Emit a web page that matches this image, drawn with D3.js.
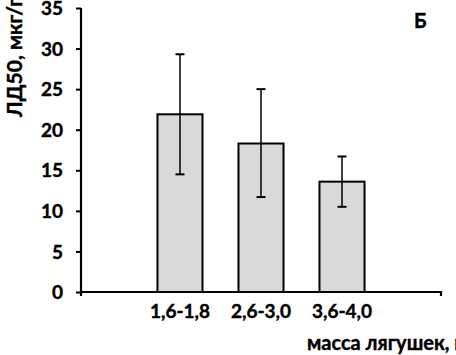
<!DOCTYPE html>
<html><head><meta charset="utf-8">
<script src="https://cdn.jsdelivr.net/npm/d3@7/dist/d3.min.js"></script>
<style>body{margin:0;background:#fff}svg{display:block}text{font-family:Lato,"Open Sans",sans-serif;font-weight:bold;fill:#000;stroke:#000;stroke-width:0.4px}</style>
</head><body>
<svg id="c" width="456" height="355"></svg>
<script>
const categories = ["1,6-1,8", "2,6-3,0", "3,6-4,0"];
const values = [21.9, 18.3, 13.6];
const errHigh = [29.3, 25.0, 16.7];
const errLow = [14.5, 11.7, 10.5];
const yTicks = [0, 5, 10, 15, 20, 25, 30, 35];

const svg = d3.select("#c");
const y = d3.scaleLinear().domain([0, 35]).range([292, 8]);
const x = d3.scaleBand().domain(categories).range([121.5, 400.5]).paddingInner(0.444).paddingOuter(0.444);
const x0 = 81, x1 = 441;

// bars
svg.selectAll("rect.bar").data(values).join("rect")
  .attr("x", (d,i) => x(categories[i]))
  .attr("y", d => y(d))
  .attr("width", x.bandwidth())
  .attr("height", d => y(0) - y(d))
  .attr("fill", "#d9d9d9").attr("stroke", "#000").attr("stroke-width", 2);

// error bars
const eg = svg.append("g").attr("stroke", "#000").attr("stroke-width", 1.5);
categories.forEach((c, i) => {
  const cx = x(c) + x.bandwidth() / 2;
  eg.append("line").attr("x1", cx).attr("x2", cx).attr("y1", y(errHigh[i])).attr("y2", y(errLow[i]));
  [errHigh[i], errLow[i]].forEach(v => {
    eg.append("line").attr("x1", cx - 4.5).attr("x2", cx + 4.5).attr("y1", y(v)).attr("y2", y(v)).attr("stroke-width", 2);
  });
});

// y axis
const yAxis = svg.append("g").attr("transform", `translate(${x0},0)`)
  .call(d3.axisLeft(y).tickValues(yTicks).tickSize(5).tickPadding(13));
yAxis.select(".domain").attr("stroke", "#000").attr("stroke-width", 2.2).attr("d", `M0,${y(35)}V${y(0)+4}`);
yAxis.selectAll(".tick line").attr("stroke", "#000").attr("stroke-width", 2);
yAxis.selectAll(".tick text").attr("font-size", 19).attr("font-family", "Lato").attr("font-weight", "bold").attr("fill", "#000").attr("dy", "0.35em");

// x axis
const xAxis = svg.append("g").attr("transform", `translate(0,${y(0)})`)
  .call(d3.axisBottom(x).tickSize(0).tickPadding(13));
xAxis.select(".domain").attr("stroke", "#000").attr("stroke-width", 2.2).attr("d", `M${x0},0H${x1}V4`);
xAxis.selectAll(".tick text").attr("font-size", 19).attr("font-family", "Lato").attr("font-weight", "bold").attr("fill", "#000");

// titles
svg.append("text").attr("transform", "translate(22,117) rotate(-90)").attr("text-anchor", "start")
  .attr("font-size", 21).text("ЛД50, мкг/г");
svg.append("text").attr("x", 307).attr("y", 350).attr("font-size", 20).text("масса лягушек, г");
svg.append("text").attr("x", 414).attr("y", 28).attr("font-size", 20).text("Б");
</script>
</body></html>
